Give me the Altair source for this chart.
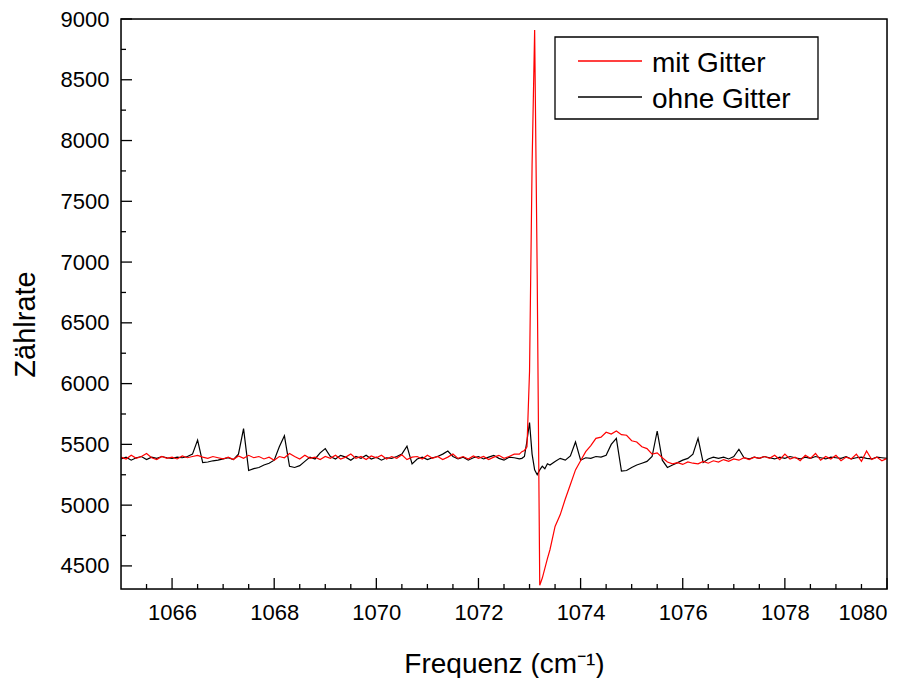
import altair as alt
import numpy as np
import pandas as pd

# Frequency grid (cm^-1): 0.1 steps, finer 0.05 steps around the resonance
freq_a = np.round(np.arange(1065.0, 1072.75, 0.1), 2)
freq_b = np.round(np.arange(1072.80, 1073.41, 0.05), 2)
freq_c = np.round(np.arange(1073.5, 1080.01, 0.1), 2)

# "mit Gitter" (red)
mit_a = [5395, 5380, 5410, 5385, 5400, 5425, 5390, 5375, 5400, 5385,
         5395, 5380, 5405, 5390, 5400, 5410, 5395, 5385, 5400, 5390,
         5380, 5395, 5375, 5405, 5385, 5410, 5390, 5400, 5380, 5395,
         5370, 5400, 5390, 5425, 5400, 5380, 5410, 5385, 5395, 5375,
         5400, 5385, 5410, 5380, 5395, 5420, 5385, 5400, 5375, 5405,
         5390, 5410, 5380, 5400, 5385, 5415, 5375, 5395, 5400, 5380,
         5410, 5385, 5400, 5375, 5395, 5420, 5385, 5400, 5380, 5405,
         5385, 5400, 5375, 5395, 5410, 5385, 5400, 5420]
mit_b = [5420, 5440, 5450, 5480, 6100, 7800, 8910, 6900, 4340, 4400, 4480, 4560, 4633]
mit_c = [4825, 4920, 5050, 5170, 5290,
         5365, 5440, 5490, 5550, 5560, 5600, 5585, 5610, 5580, 5575,
         5530, 5520, 5480, 5465, 5420, 5430, 5390, 5355, 5340, 5350,
         5335, 5355, 5345, 5340, 5360, 5345, 5365, 5355, 5375, 5360,
         5380, 5370, 5390, 5375, 5395, 5385, 5400,
         5385, 5410, 5375, 5420, 5380, 5395, 5365, 5410, 5385, 5425,
         5370, 5400, 5380, 5410, 5365, 5395, 5380, 5420, 5360, 5445,
         5375, 5395, 5365, 5385]

# "ohne Gitter" (black)
ohne_a = [5380, 5395, 5370, 5390, 5400, 5375, 5395, 5385, 5400, 5390,
          5385, 5395, 5390, 5400, 5420, 5535, 5350, 5355, 5365, 5370,
          5380, 5390, 5375, 5420, 5630, 5285, 5300, 5310, 5330, 5345,
          5370, 5480, 5570, 5320, 5310, 5325, 5360, 5395, 5380, 5430,
          5465, 5400, 5380, 5410, 5395, 5370, 5400, 5385, 5410, 5380,
          5395, 5370, 5390, 5385, 5400, 5420, 5485, 5340, 5380, 5395,
          5375, 5390, 5400, 5420, 5445, 5400, 5380, 5395, 5370, 5390,
          5400, 5380, 5395, 5410, 5385, 5370, 5395, 5390]
ohne_b = [5380, 5385, 5400, 5530, 5680, 5420, 5290, 5250, 5290, 5320, 5300, 5340, 5330]
ohne_c = [5360, 5385, 5370, 5405, 5520,
          5370, 5390, 5385, 5400, 5395, 5410, 5500, 5550, 5280, 5285,
          5310, 5330, 5345, 5360, 5400, 5610, 5370, 5310, 5330, 5350,
          5370, 5385, 5420, 5550, 5350, 5380, 5395, 5385, 5395, 5380,
          5400, 5460, 5390, 5380, 5395, 5385, 5400, 5390, 5380, 5395,
          5385, 5400, 5390, 5380, 5395, 5385, 5400, 5390, 5380, 5395,
          5390, 5385, 5400, 5380, 5390, 5395, 5385, 5380, 5395, 5390,
          5385]

series_names = ["mit Gitter", "ohne Gitter"]
series_colors = ["#ff0000", "#000000"]

x_labels = [1066, 1068, 1070, 1072, 1074, 1076, 1078, 1080]
x_minor = [1065.5, 1066.5, 1067, 1067.5, 1068.5, 1069, 1069.5, 1070.5, 1071, 1071.5,
           1072.5, 1073, 1073.5, 1074.5, 1075, 1075.5, 1076.5, 1077, 1077.5,
           1078.5, 1079, 1079.5]
y_labels = [4500, 5000, 5500, 6000, 6500, 7000, 7500, 8000, 8500, 9000]
y_minor = [4750, 5250, 5750, 6250, 6750, 7250, 7750, 8250, 8750]

freq = np.concatenate([freq_a, freq_b, freq_c])
df_mit = pd.DataFrame({"freq": freq, "count": mit_a + mit_b + mit_c, "series": series_names[0]})
df_ohne = pd.DataFrame({"freq": freq, "count": ohne_a + ohne_b + ohne_c, "series": series_names[1]})
one = pd.DataFrame({"k": [0]})

FONT = "Liberation Sans"
W, H = 766, 570

x_enc = alt.X("freq:Q",
              scale=alt.Scale(domain=[1065, 1080], nice=False, zero=False),
              axis=alt.Axis(values=x_labels, format="d", title="Frequenz (cm⁻¹)",
                            ticks=False, domain=False, grid=False,
                            labelFontSize=22, labelPadding=13, labelColor="black",
                            titleFontSize=28, titleFontWeight="normal", titleColor="black",
                            titleY=83, titleBaseline="alphabetic"))
y_enc = alt.Y("count:Q",
              scale=alt.Scale(domain=[4310, 9000], nice=False, zero=False),
              axis=alt.Axis(values=y_labels, format="d", title="Zählrate",
                            ticks=False, domain=False, grid=False,
                            labelFontSize=22, labelPadding=12, labelColor="black",
                            titleFontSize=29, titleFontWeight="normal", titleColor="black",
                            titleX=-96, titleY=305, titleAngle=270,
                            titleAlign="center", titleBaseline="middle"))
color_enc = alt.Color("series:N",
                      scale=alt.Scale(domain=series_names, range=series_colors),
                      legend=None)

line_ohne = alt.Chart(df_ohne).mark_line(strokeWidth=1.2).encode(x=x_enc, y=y_enc, color=color_enc)
line_mit = alt.Chart(df_mit).mark_line(strokeWidth=1.2).encode(x=x_enc, y=y_enc, color=color_enc)

tick_style = dict(color="black", strokeWidth=1.3)
xmaj = alt.Chart(pd.DataFrame({"freq": x_labels})).mark_rule(**tick_style).encode(
    x=x_enc, y=alt.value(H), y2=alt.value(H - 11))
xmin = alt.Chart(pd.DataFrame({"freq": x_minor})).mark_rule(**tick_style).encode(
    x=x_enc, y=alt.value(H), y2=alt.value(H - 5))
ymaj = alt.Chart(pd.DataFrame({"count": y_labels})).mark_rule(**tick_style).encode(
    y=y_enc, x=alt.value(0), x2=alt.value(11))
ymin = alt.Chart(pd.DataFrame({"count": y_minor})).mark_rule(**tick_style).encode(
    y=y_enc, x=alt.value(0), x2=alt.value(5))

# plot frame
frame = alt.Chart(one).mark_rect(filled=False, stroke="black", strokeWidth=1.5).encode(
    x=alt.value(0), x2=alt.value(W), y=alt.value(0), y2=alt.value(H))

# legend box (drawn as marks to match the boxed legend of the original)
leg_box = alt.Chart(one).mark_rect(fill="white", stroke="black", strokeWidth=1.3).encode(
    x=alt.value(434), x2=alt.value(697), y=alt.value(18), y2=alt.value(100))
leg_l1 = alt.Chart(one).mark_rule(strokeWidth=1.3).encode(
    x=alt.value(457), x2=alt.value(521), y=alt.value(42), color=alt.value(series_colors[0]))
leg_l2 = alt.Chart(one).mark_rule(strokeWidth=1.3).encode(
    x=alt.value(457), x2=alt.value(521), y=alt.value(78), color=alt.value(series_colors[1]))
leg_t1 = alt.Chart(one).mark_text(align="left", baseline="alphabetic", font=FONT,
                                  fontSize=28, color="black").encode(
    x=alt.value(531), y=alt.value(53), text=alt.value(series_names[0]))
leg_t2 = alt.Chart(one).mark_text(align="left", baseline="alphabetic", font=FONT,
                                  fontSize=28, color="black").encode(
    x=alt.value(531), y=alt.value(89), text=alt.value(series_names[1]))

chart = alt.layer(xmaj, xmin, ymaj, ymin, line_ohne, line_mit, frame,
                  leg_box, leg_l1, leg_l2, leg_t1, leg_t2).properties(
    width=W, height=H,
    autosize=alt.AutoSizeParams(type="none"),
    padding={"left": 121, "top": 19, "right": 26, "bottom": 89},
    background="white",
).configure_view(
    stroke="transparent"
).configure(font=FONT)

chart.save("out.html", embed_options={"renderer": "svg", "actions": False})
